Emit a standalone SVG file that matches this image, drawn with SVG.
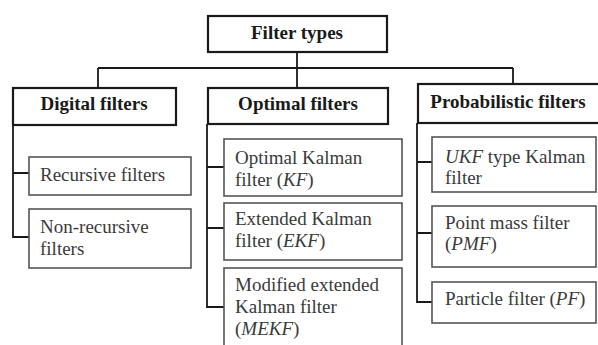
<svg xmlns="http://www.w3.org/2000/svg" width="598" height="345" viewBox="0 0 598 345">
<style>
.hbox{fill:#fff;stroke:#1a1a1a;stroke-width:2.2}
.cbox{fill:#fff;stroke:#555;stroke-width:1.6}
.ht{font-family:"Liberation Serif","Times New Roman",serif;font-size:19px;font-weight:bold;fill:#1a1a1a;text-anchor:middle}
.ct{font-family:"Liberation Serif","Times New Roman",serif;font-size:19px;fill:#3a3a3a}
.conn{fill:none;stroke:#1a1a1a;stroke-width:1.8}
</style>
<rect width="598" height="345" fill="#fff"/>
<g id="connectors">
<path class="conn" d="M297,52 V88 M98,68 H513 M98,68 V88 M513,68 V84"/>
<path class="conn" d="M13,125 V237 H29 M13,173 H29"/>
<path class="conn" d="M207,124 V307 H224 M207,167 H224 M207,228 H224"/>
<path class="conn" d="M417,123 V302 H432 M417,162 H432 M417,233 H432"/>
</g>
<g id="filter-types">
<rect class="hbox" x="208" y="16" width="179" height="36"/>
<text class="ht" x="297" y="39">Filter types</text>
</g>
<g id="digital-filters">
<rect class="hbox" x="13" y="88" width="163" height="37"/>
<text class="ht" x="94" y="110">Digital filters</text>
</g>
<g id="optimal-filters">
<rect class="hbox" x="208" y="88" width="180" height="36"/>
<text class="ht" x="298" y="110">Optimal filters</text>
</g>
<g id="probabilistic-filters">
<rect class="hbox" x="418" y="84" width="184" height="39"/>
<text class="ht" x="508" y="108">Probabilistic filters</text>
</g>
<g id="recursive">
<rect class="cbox" x="29" y="157" width="162" height="38"/>
<text class="ct" x="40" y="181">Recursive filters</text>
</g>
<g id="non-recursive">
<rect class="cbox" x="29" y="209" width="162" height="59"/>
<text class="ct" x="40" y="233">Non-recursive</text>
<text class="ct" x="40" y="255">filters</text>
</g>
<g id="kf">
<rect class="cbox" x="224" y="139" width="178" height="57"/>
<text class="ct" x="235" y="164">Optimal Kalman</text>
<text class="ct" x="235" y="186">filter (<tspan font-style="italic">KF</tspan>)</text>
</g>
<g id="ekf">
<rect class="cbox" x="224" y="203" width="178" height="57"/>
<text class="ct" x="235" y="225">Extended Kalman</text>
<text class="ct" x="235" y="247">filter (<tspan font-style="italic">EKF</tspan>)</text>
</g>
<g id="mekf">
<rect class="cbox" x="224" y="268" width="178" height="90"/>
<text class="ct" x="235" y="291">Modified extended</text>
<text class="ct" x="235" y="313">Kalman filter</text>
<text class="ct" x="235" y="335">(<tspan font-style="italic">MEKF</tspan>)</text>
</g>
<g id="ukf">
<rect class="cbox" x="432" y="137" width="164" height="55"/>
<text class="ct" x="445" y="163"><tspan font-style="italic">UKF</tspan> type Kalman</text>
<text class="ct" x="445" y="184">filter</text>
</g>
<g id="pmf">
<rect class="cbox" x="432" y="206" width="164" height="61"/>
<text class="ct" x="445" y="229">Point mass filter</text>
<text class="ct" x="445" y="250">(<tspan font-style="italic">PMF</tspan>)</text>
</g>
<g id="pf">
<rect class="cbox" x="432" y="282" width="164" height="41"/>
<text class="ct" x="445" y="305">Particle filter (<tspan font-style="italic">PF</tspan>)</text>
</g>
</svg>
